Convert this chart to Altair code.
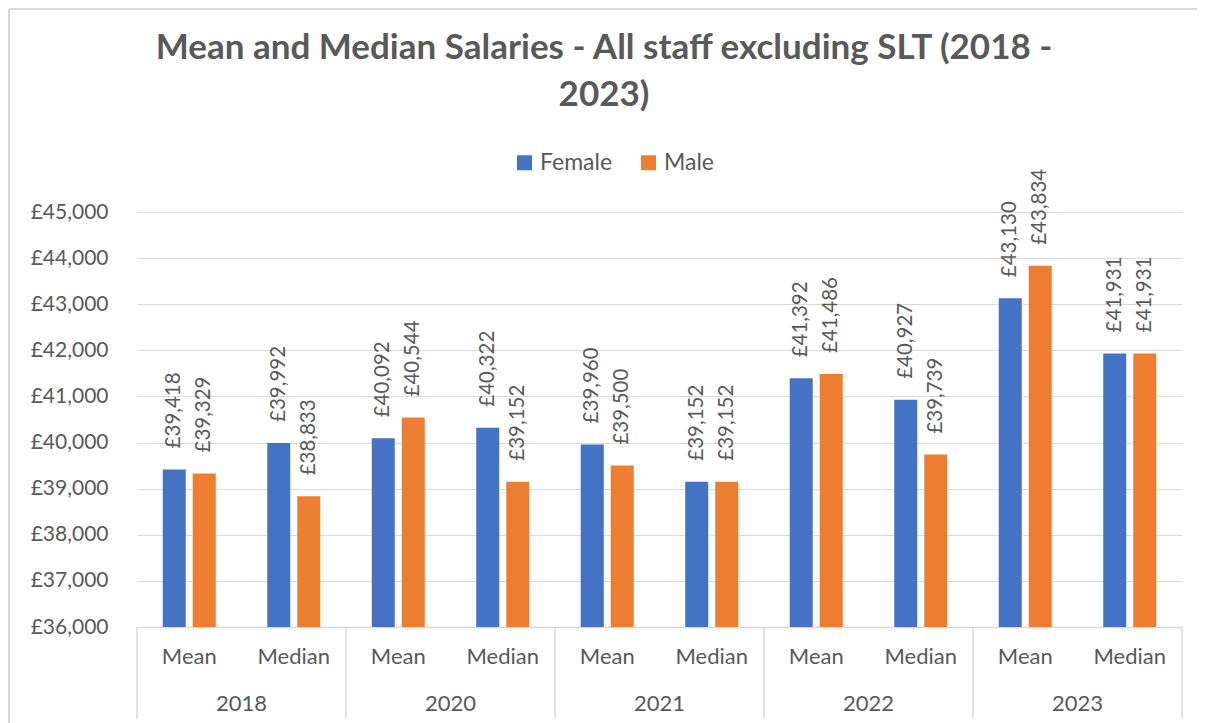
import altair as alt
import pandas as pd

years = ["2018", "2020", "2021", "2022", "2023"]
stats = ["Mean", "Median"]
genders = ["Female", "Male"]
female_mean = [39418, 40092, 39960, 41392, 43130]
male_mean = [39329, 40544, 39500, 41486, 43834]
female_median = [39992, 40322, 39152, 40927, 41931]
male_median = [38833, 39152, 39152, 39739, 41931]
y_ticks = [36000, 37000, 38000, 39000, 40000, 41000, 42000, 43000, 44000, 45000]
title_lines = ["Mean and Median Salaries - All staff excluding SLT (2018 -", "2023)"]

rows = []
for i, yr in enumerate(years):
    for stat, fv, mv in [("Mean", female_mean[i], male_mean[i]), ("Median", female_median[i], male_median[i])]:
        rows.append(dict(year=yr, stat=stat, cat=f"{yr}|{stat}", gender="Female", value=fv))
        rows.append(dict(year=yr, stat=stat, cat=f"{yr}|{stat}", gender="Male", value=mv))
df = pd.DataFrame(rows)
cats = [f"{yr}|{s}" for yr in years for s in stats]

W, H = 1045, 415
font = "Lato"
grey = "#595959"
gridc = "#D9D9D9"

x_scale = alt.Scale(paddingInner=0, paddingOuter=0)
x_enc = alt.X(
    "cat:N", sort=cats, scale=x_scale,
    axis=alt.Axis(labelExpr="split(datum.label, '|')[1]", ticks=False, grid=False,
                  domainColor=gridc, domainWidth=1.5, labelPadding=19, title=None,
                  labelAngle=0, labelFontSize=22, labelFont=font, labelColor=grey),
)
xo = alt.XOffset("gender:N", sort=genders,
                 scale=alt.Scale(paddingInner=7 / 30, paddingOuter=0.8583))
y_enc = alt.Y(
    "value:Q",
    scale=alt.Scale(domain=[36000, 45000], zero=False, nice=False),
    axis=alt.Axis(values=y_ticks, labelExpr="'£' + format(datum.value, ',')", title=None,
                  ticks=False, domain=False, gridColor=gridc, gridWidth=1.2,
                  labelPadding=29, labelFontSize=21, labelFont=font, labelColor=grey),
)
color = alt.Color(
    "gender:N", sort=genders,
    scale=alt.Scale(domain=genders, range=["#4472C4", "#ED7D31"]),
    legend=alt.Legend(title=None, orient="none", direction="horizontal",
                      legendX=376, legendY=-61, symbolType="square", symbolSize=225,
                      symbolStrokeWidth=0, labelFontSize=23, labelFont=font,
                      labelColor=grey, columnPadding=24, labelOffset=4, padding=0),
)

frame_df = pd.DataFrame({"a": [0]})
border_top = alt.Chart(frame_df).mark_rule(color=gridc, strokeWidth=2).encode(
    x=alt.value(-128), x2=alt.value(1100), y=alt.value(-203)
)
border_left = alt.Chart(frame_df).mark_rule(color=gridc, strokeWidth=2).encode(
    x=alt.value(-128), y=alt.value(-203), y2=alt.value(540)
)

title1 = alt.Chart(pd.DataFrame({"line": [title_lines[0]]})).mark_text(
    font=font, fontSize=35, fontWeight="bold", color=grey, baseline="middle", align="center"
).encode(x=alt.value(467), y=alt.value(-164), text="line:N")
title2 = alt.Chart(pd.DataFrame({"line": [title_lines[1]]})).mark_text(
    font=font, fontSize=35, fontWeight="bold", color=grey, baseline="middle", align="center"
).encode(x=alt.value(467), y=alt.value(-117), text="line:N")

bars = alt.Chart(df).mark_bar().encode(
    x=x_enc, xOffset=xo, y=y_enc, y2=alt.Y2Datum(36000), color=color
)

labels = alt.Chart(df).transform_calculate(
    lab="'£' + format(datum.value, ',')"
).mark_text(angle=270, align="left", baseline="middle", dx=21, fontSize=20.5,
            font=font, color=grey).encode(
    x=alt.X("cat:N", sort=cats),
    xOffset=alt.XOffset("gender:N", sort=genders),
    y="value:Q",
    text="lab:N",
)

sep_df = pd.DataFrame({"cat": [f"{yr}|Mean" for yr in years]})
end_df = pd.DataFrame({"cat": [f"{years[-1]}|Median"]})
seps = alt.Chart(sep_df).mark_rule(color=gridc, strokeWidth=1.5).encode(
    x=alt.X("cat:N", sort=cats, bandPosition=0), y=alt.value(H), y2=alt.value(H + 92)
)
seps_end = alt.Chart(end_df).mark_rule(color=gridc, strokeWidth=1.5).encode(
    x=alt.X("cat:N", sort=cats, bandPosition=1), y=alt.value(H), y2=alt.value(H + 92)
)

year_df = pd.DataFrame({"cat": [f"{yr}|Median" for yr in years], "year": years})
year_text = alt.Chart(year_df).mark_text(
    fontSize=22, font=font, color=grey, baseline="middle"
).encode(
    x=alt.X("cat:N", sort=cats, bandPosition=0), y=alt.value(H + 77), text="year:N"
)

chart = alt.layer(border_top, border_left, title1, title2, bars, labels, seps, seps_end, year_text).properties(
    width=W, height=H,
    padding={"left": 129, "top": 204, "right": 15, "bottom": 100},
    autosize=alt.AutoSizeParams(type="none"),
).configure_view(stroke=None)

chart.save("out.html", embed_options={"renderer": "svg", "actions": False})
